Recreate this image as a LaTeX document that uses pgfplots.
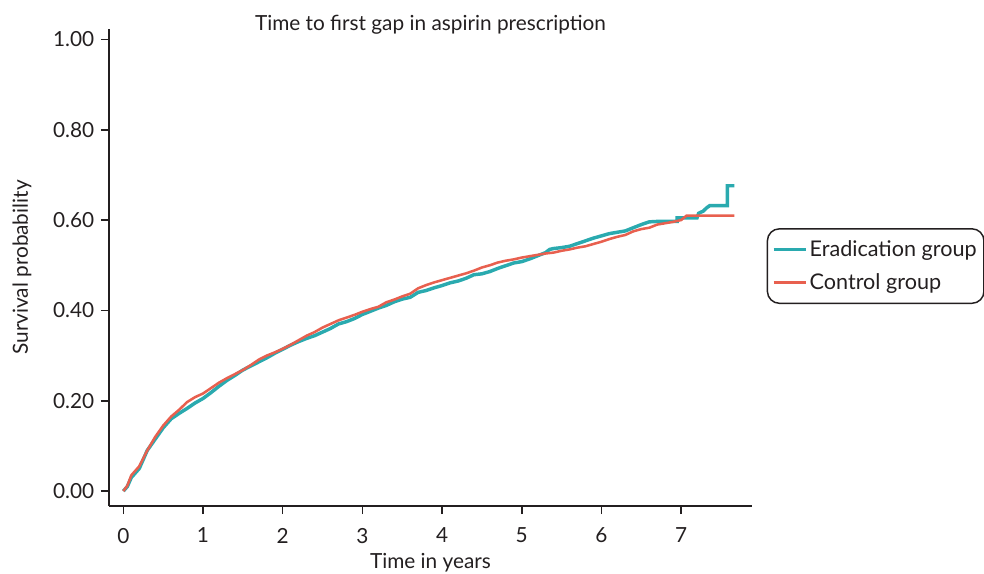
\documentclass[border=0pt]{standalone}
\usepackage{pgfplots}
\pgfplotsset{compat=1.18}
\usepackage{pgfplotstable}
\usepackage{fontspec}
\setmainfont{Lato}
\definecolor{teal1}{HTML}{2AAAAF}
\definecolor{red1}{HTML}{E8604F}
\definecolor{axc}{HTML}{231F20}
\pgfplotstableread{
x y
0 0
0.05 0.01
0.1 0.03
0.2 0.05
0.3 0.09
0.4 0.115
0.5 0.14
0.6 0.16
0.7 0.172
0.8 0.183
0.9 0.195
1.0 0.205
1.1 0.218
1.2 0.232
1.3 0.245
1.4 0.256
1.5 0.268
1.6 0.277
1.7 0.286
1.8 0.295
1.9 0.305
2.0 0.314
2.1 0.323
2.2 0.331
2.3 0.338
2.4 0.344
2.5 0.352
2.6 0.360
2.7 0.370
2.8 0.375
2.9 0.382
3.0 0.391
3.1 0.398
3.2 0.405
3.3 0.411
3.4 0.419
3.5 0.425
3.6 0.429
3.7 0.440
3.8 0.444
3.9 0.450
4.0 0.455
4.1 0.461
4.2 0.465
4.3 0.471
4.4 0.479
4.5 0.481
4.6 0.486
4.7 0.493
4.8 0.499
4.9 0.505
5.0 0.508
5.1 0.514
5.2 0.521
5.3 0.528
5.35 0.535
5.4 0.537
5.5 0.539
5.6 0.542
5.7 0.548
5.8 0.554
5.9 0.560
6.0 0.565
6.1 0.570
6.2 0.573
6.3 0.576
6.4 0.583
6.5 0.590
6.6 0.596
6.7 0.597
6.95 0.597
6.95 0.605
7.2 0.605
7.22 0.615
7.28 0.620
7.32 0.627
7.36 0.632
7.58 0.632
7.58 0.676
7.67 0.676
}\erad
\pgfplotstableread{
x y
0 0
0.05 0.012
0.1 0.035
0.2 0.055
0.3 0.09
0.4 0.12
0.5 0.145
0.6 0.165
0.7 0.18
0.8 0.197
0.9 0.208
1.0 0.216
1.1 0.228
1.2 0.240
1.3 0.250
1.4 0.259
1.5 0.268
1.6 0.279
1.7 0.291
1.8 0.300
1.9 0.307
2.0 0.315
2.1 0.324
2.2 0.334
2.3 0.344
2.4 0.352
2.5 0.362
2.6 0.370
2.7 0.378
2.8 0.384
2.9 0.390
3.0 0.397
3.1 0.403
3.2 0.408
3.3 0.418
3.4 0.424
3.5 0.431
3.6 0.437
3.7 0.449
3.8 0.456
3.9 0.462
4.0 0.467
4.1 0.472
4.2 0.477
4.3 0.482
4.4 0.488
4.5 0.495
4.6 0.500
4.7 0.506
4.8 0.510
4.9 0.513
5.0 0.517
5.1 0.520
5.2 0.523
5.3 0.526
5.4 0.528
5.5 0.532
5.6 0.535
5.7 0.539
5.8 0.542
5.9 0.547
6.0 0.552
6.1 0.558
6.2 0.563
6.3 0.567
6.4 0.575
6.5 0.580
6.6 0.583
6.7 0.590
6.8 0.593
6.9 0.596
7.0 0.600
7.07 0.610
7.67 0.610
}\ctrl
\begin{document}
\begin{tikzpicture}
\begin{axis}[
  name=ax,
  scale only axis,
  width=482.25pt, height=357.75pt,
  xmin=-0.18, xmax=7.89,
  ymin=-0.033, ymax=1.023,
  axis lines=left,
  axis line style={-, draw=axc, line width=1.2pt},
  xtick={0,1,...,7},
  ytick={0,0.2,0.4,0.6,0.8,1.0},
  yticklabel style={/pgf/number format/fixed, /pgf/number format/fixed zerofill, /pgf/number format/precision=2, xshift=-1.5pt},
  xticklabel style={yshift=-7pt},
  /pgf/number format/assume math mode=true,
  tick style={draw=axc, line width=1.2pt},
  tick align=outside,
  major tick length=6pt,
  tick label style={font=\fontsize{15.6}{18}\selectfont, text=axc},
  label style={font=\fontsize{15.6}{18}\selectfont, text=axc},
  xlabel={Time in years},
  xlabel style={at={(axis description cs:0.5,0)}, anchor=center, yshift=-42.75pt},
  ylabel={Survival probability},
  ylabel style={at={(axis description cs:-0.1353,0.5)}, anchor=center},
  title={Time to first gap in aspirin prescription},
  every axis title shift=0pt,
  title style={font=\fontsize{15.6}{18}\selectfont, text=axc, at={(axis description cs:0.5,1)}, anchor=base, yshift=-1pt},
  legend style={at={(axis description cs:1,0.503)}, anchor=west, xshift=11pt, draw=axc, line width=1.1pt, rounded corners=9pt, font=\fontsize{16.2}{19}\selectfont, text=axc, inner xsep=3.5pt, inner ysep=7pt, row sep=7pt},
  legend cell align=left,
  legend image code/.code={\draw[#1, line width=2.2pt] (0cm,0cm) -- (24pt,0cm);},
]
\addplot[teal1, line width=2.6pt] table[x=x,y=y] {\erad};
\addlegendentry{Eradication group}
\addplot[red1, line width=1.9pt] table[x=x,y=y] {\ctrl};
\addlegendentry{Control group}
\end{axis}
\pgfresetboundingbox
\path[use as bounding box] ([xshift=-81.75pt, yshift=-51pt]ax.south west) rectangle ([xshift=656.25pt, yshift=21.75pt]ax.north west);
\end{tikzpicture}
\end{document}
